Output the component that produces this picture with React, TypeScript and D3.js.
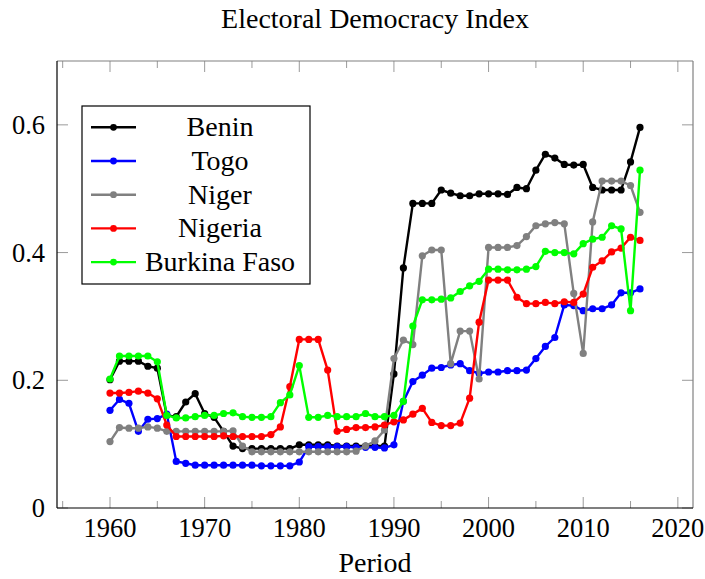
import React from "react";
import * as d3 from "d3";

const years: number[] = d3.range(1960, 2017);

const benin: number[] = [
  0.201, 0.230, 0.230, 0.230, 0.222, 0.219, 0.145, 0.143, 0.166, 0.179,
  0.148, 0.142, 0.120, 0.097, 0.093, 0.093, 0.093, 0.093, 0.093, 0.093,
  0.099, 0.099, 0.099, 0.099, 0.097, 0.097, 0.097, 0.097, 0.097, 0.097,
  0.210, 0.376, 0.477, 0.477, 0.477, 0.498, 0.493, 0.489, 0.489, 0.492,
  0.492, 0.492, 0.491, 0.502, 0.500, 0.529, 0.554, 0.548, 0.538, 0.537,
  0.538, 0.502, 0.498, 0.498, 0.498, 0.542, 0.596,
];
const togo: number[] = [
  0.153, 0.170, 0.164, 0.120, 0.139, 0.140, 0.147, 0.073, 0.070, 0.067,
  0.067, 0.067, 0.067, 0.067, 0.067, 0.067, 0.066, 0.066, 0.066, 0.066,
  0.072, 0.096, 0.096, 0.096, 0.096, 0.096, 0.095, 0.095, 0.095, 0.094,
  0.099, 0.167, 0.198, 0.208, 0.219, 0.220, 0.224, 0.226, 0.215, 0.211,
  0.213, 0.213, 0.215, 0.215, 0.216, 0.234, 0.253, 0.267, 0.318, 0.317,
  0.309, 0.312, 0.312, 0.318, 0.337, 0.337, 0.343,
];
const niger: number[] = [
  0.104, 0.126, 0.125, 0.125, 0.127, 0.125, 0.120, 0.120, 0.120, 0.120,
  0.120, 0.120, 0.120, 0.121, 0.097, 0.088, 0.088, 0.088, 0.088, 0.088,
  0.088, 0.088, 0.088, 0.088, 0.088, 0.088, 0.089, 0.097, 0.105, 0.122,
  0.234, 0.263, 0.256, 0.395, 0.404, 0.404, 0.226, 0.277, 0.277, 0.202,
  0.408, 0.408, 0.408, 0.411, 0.425, 0.442, 0.445, 0.447, 0.445, 0.336,
  0.242, 0.448, 0.512, 0.512, 0.512, 0.505, 0.463,
];
const nigeria: number[] = [
  0.180, 0.180, 0.181, 0.183, 0.180, 0.171, 0.130, 0.112, 0.112, 0.112,
  0.112, 0.112, 0.113, 0.112, 0.112, 0.112, 0.112, 0.115, 0.127, 0.190,
  0.264, 0.264, 0.264, 0.216, 0.120, 0.123, 0.126, 0.126, 0.127, 0.130,
  0.135, 0.138, 0.147, 0.156, 0.134, 0.129, 0.129, 0.133, 0.172, 0.291,
  0.357, 0.357, 0.357, 0.330, 0.320, 0.320, 0.322, 0.320, 0.323, 0.322,
  0.335, 0.377, 0.387, 0.401, 0.407, 0.424, 0.419,
];
const burkinaFaso: number[] = [
  0.202, 0.238, 0.238, 0.238, 0.238, 0.229, 0.145, 0.141, 0.141, 0.143,
  0.145, 0.145, 0.148, 0.149, 0.143, 0.142, 0.142, 0.143, 0.165, 0.177,
  0.223, 0.142, 0.142, 0.145, 0.143, 0.143, 0.143, 0.148, 0.143, 0.143,
  0.145, 0.167, 0.285, 0.326, 0.326, 0.327, 0.329, 0.339, 0.348, 0.355,
  0.374, 0.374, 0.373, 0.373, 0.374, 0.378, 0.402, 0.400, 0.400, 0.398,
  0.414, 0.421, 0.424, 0.442, 0.437, 0.309, 0.529,
];

const seriesNames: string[] = ["Benin", "Togo", "Niger", "Nigeria", "Burkina Faso"];
const seriesColors: string[] = ["#000000", "#0000ff", "#808080", "#ff0000", "#00ff00"];
const seriesValues: number[][] = [benin, togo, niger, nigeria, burkinaFaso];

const xMajorTicks: number[] = [1960, 1970, 1980, 1990, 2000, 2010, 2020];
const xMinorTicks: number[] = [1955, 1965, 1975, 1985, 1995, 2005, 2015];
const yTicks: number[] = [0, 0.2, 0.4, 0.6];

const title = "Electoral Democracy Index";
const xLabel = "Period";

const W = 705;
const H = 579;
const L = 57;
const R = 693;
const T = 61;
const B = 508;
const FONT = "Liberation Serif";
const FS_NUM = 26.5;
const FS_TXT = 28;

export default function App() {
  const x = d3.scaleLinear().domain([1954.4, 2021.6]).range([L, R]);
  const y = d3.scaleLinear().domain([0, 0.7]).range([B, T]);
  const line = d3
    .line<number>()
    .x((_, i) => x(years[i]))
    .y((d) => y(d));

  const tickColor = "#9a9a9a";
  const majorLen = 11;
  const minorLen = 7;

  const legX = 82;
  const legY = 106;
  const legW = 228;
  const legH = 178;
  const rowH = 33.7;
  const textStyle = { fontFamily: FONT };

  return (
    <svg
      width={W}
      height={H}
      style={{ position: "absolute", left: 0, top: 0, background: "#fff" }}
    >
      <rect x={0} y={0} width={W} height={H} fill="#fff" />
      <text x={(L + R) / 2} y={28} textAnchor="middle" fontSize={FS_TXT} fill="#000" style={textStyle}>
        {title}
      </text>

      {xMajorTicks.map((t) => (
        <g key={"xM" + t}>
          <line x1={x(t)} x2={x(t)} y1={B} y2={B - majorLen} stroke={tickColor} strokeWidth={1} />
          <line x1={x(t)} x2={x(t)} y1={T} y2={T + majorLen} stroke={tickColor} strokeWidth={1} />
          <text x={x(t)} y={537} textAnchor="middle" fontSize={FS_NUM} fill="#000" style={textStyle}>
            {t}
          </text>
        </g>
      ))}
      {xMinorTicks.map((t) => (
        <g key={"xm" + t}>
          <line x1={x(t)} x2={x(t)} y1={B} y2={B - minorLen} stroke={tickColor} strokeWidth={1} />
          <line x1={x(t)} x2={x(t)} y1={T} y2={T + minorLen} stroke={tickColor} strokeWidth={1} />
        </g>
      ))}
      {yTicks.map((t) => (
        <g key={"y" + t}>
          <line x1={L} x2={L + majorLen} y1={y(t)} y2={y(t)} stroke={tickColor} strokeWidth={1} />
          <line x1={R} x2={R - majorLen} y1={y(t)} y2={y(t)} stroke={tickColor} strokeWidth={1} />
          <text x={45} y={y(t) + 9} textAnchor="end" fontSize={FS_NUM} fill="#000" style={textStyle}>
            {t === 0 ? "0" : t.toFixed(1)}
          </text>
        </g>
      ))}

      <line x1={L} x2={R} y1={T} y2={T} stroke="#808080" strokeWidth={1.2} />
      <line x1={R} x2={R} y1={T} y2={B} stroke="#808080" strokeWidth={1.2} />
      <line x1={L} x2={L} y1={T} y2={B} stroke="#000" strokeWidth={1.2} />
      <line x1={L} x2={R} y1={B} y2={B} stroke="#000" strokeWidth={1.2} />

      {seriesValues.map((vals, si) => (
        <g key={seriesNames[si]}>
          <path d={line(vals) || ""} fill="none" stroke={seriesColors[si]} strokeWidth={2.4} strokeLinejoin="round" />
          {vals.map((v, i) => (
            <circle key={i} cx={x(years[i])} cy={y(v)} r={3.6} fill={seriesColors[si]} />
          ))}
        </g>
      ))}

      <rect x={legX} y={legY} width={legW} height={legH} fill="#fff" stroke="#000" strokeWidth={1.2} />
      {seriesNames.map((name, i) => {
        const cy = legY + 21.3 + i * rowH;
        return (
          <g key={"leg" + name}>
            <line x1={91} x2={136} y1={cy} y2={cy} stroke={seriesColors[i]} strokeWidth={2.4} />
            <circle cx={113.5} cy={cy} r={3.4} fill={seriesColors[i]} />
            <text x={220} y={cy + 9} textAnchor="middle" fontSize={FS_TXT} fill="#000" style={textStyle}>
              {name}
            </text>
          </g>
        );
      })}

      <text x={(L + R) / 2} y={572} textAnchor="middle" fontSize={FS_TXT} fill="#000" style={textStyle}>
        {xLabel}
      </text>
    </svg>
  );
}
